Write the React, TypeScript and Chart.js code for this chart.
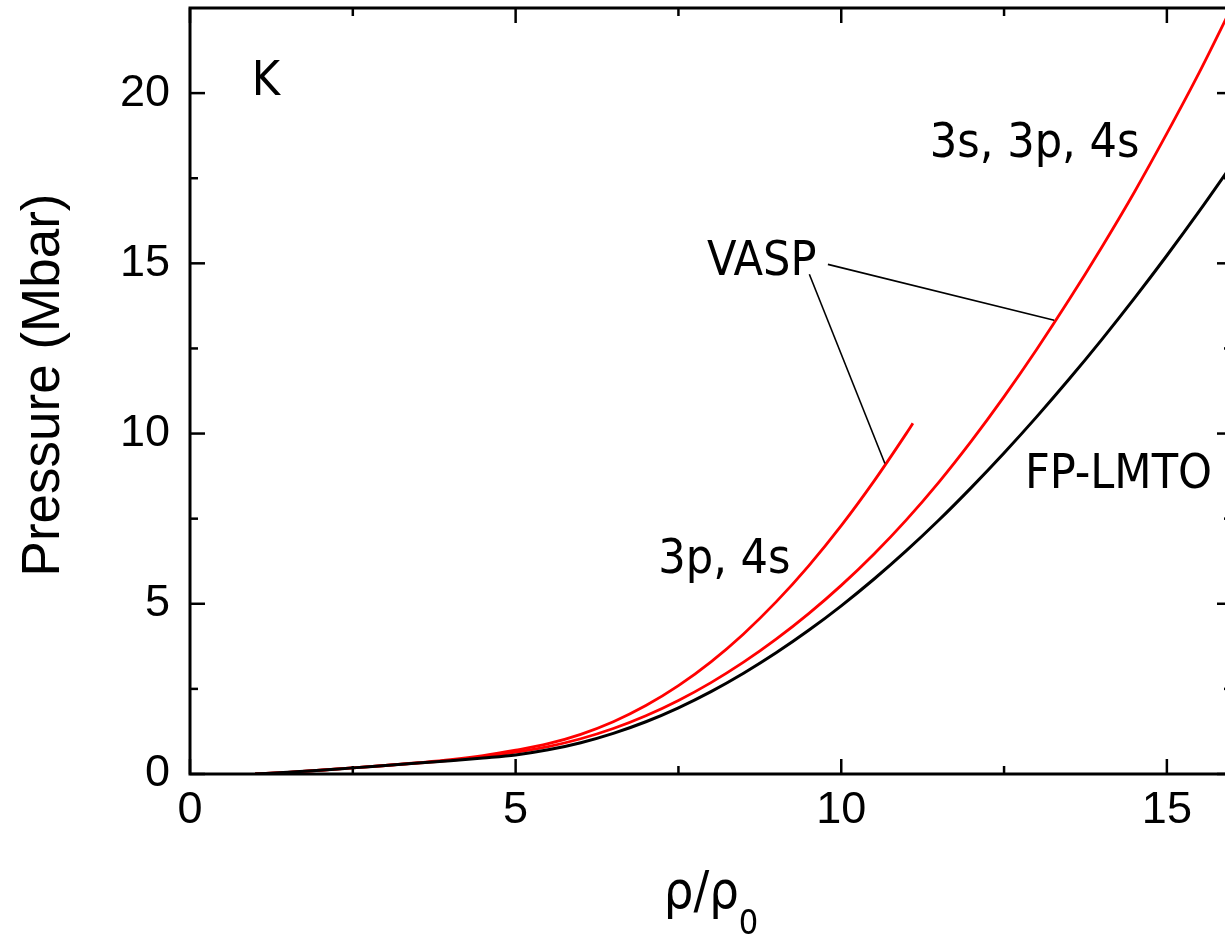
import React, { useEffect, useRef } from "react";
import { Chart, registerables } from "chart.js";

Chart.register(...registerables);

// ---- data (ρ/ρ0 vs pressure in Mbar) ----
const DENSITY = [
  1.0, 1.5, 2.0, 2.5, 3.0, 3.5, 4.0, 4.5, 5.0, 5.5, 6.0, 6.5, 7.0, 7.5, 8.0, 8.5,
  9.0, 9.5, 10.0, 10.5, 11.0, 11.5, 12.0, 12.5, 13.0, 13.5, 14.0, 14.5, 15.0, 15.5, 16.0,
];
const P_FPLMTO = [
  0.0, 0.05, 0.11, 0.18, 0.25, 0.32, 0.39, 0.47, 0.56, 0.71, 0.92, 1.195, 1.535, 1.945, 2.42, 2.96,
  3.56, 4.22, 4.94, 5.72, 6.56, 7.46, 8.42, 9.43, 10.49, 11.6, 12.76, 13.97, 15.23, 16.54, 17.9,
];
const P_VASP_3S3P4S = [
  0.0, 0.05, 0.11, 0.18, 0.25, 0.32, 0.4, 0.5, 0.64, 0.805, 1.035, 1.335, 1.71, 2.16, 2.685, 3.285,
  3.96, 4.71, 5.54, 6.455, 7.465, 8.575, 9.785, 11.085, 12.47, 13.935, 15.475, 17.09, 18.815, 20.615, 22.54,
];
const DENSITY_3P4S = [
  1.0, 1.5, 2.0, 2.5, 3.0, 3.5, 4.0, 4.5, 5.0, 5.5, 6.0, 6.5, 7.0, 7.5, 8.0, 8.5,
  9.0, 9.5, 10.0, 10.5, 11.0, 11.1,
];
const P_VASP_3P4S = [
  0.0, 0.05, 0.11, 0.18, 0.25, 0.33, 0.42, 0.54, 0.7, 0.89, 1.165, 1.535, 2.01, 2.595, 3.295, 4.115,
  5.055, 6.115, 7.295, 8.595, 10.005, 10.3,
];

const X_TICKS = [0, 5, 10, 15];
const X_MINOR = [2.5, 7.5, 12.5];
const Y_TICKS = [0, 5, 10, 15, 20];
const Y_MINOR = [2.5, 7.5, 12.5, 17.5];

const Y_TITLE = "Pressure (Mbar)";
const X_TITLE_MAIN = "ρ/ρ";
const X_TITLE_SUB = "0";

// labels anchored in data coordinates (left, baseline)
const LABEL_TEXT = ["K", "3s, 3p, 4s", "VASP", "FP-LMTO", "3p, 4s"];
const LABEL_X = [0.95, 11.36, 7.94, 12.82, 7.19];
const LABEL_Y = [19.94, 18.12, 14.65, 8.4, 5.9];

// leader lines from "VASP"
const LEADER_FROM_X = [9.795, 9.51];
const LEADER_FROM_Y = [14.97, 14.68];
const LEADER_TO_X = [13.27, 10.67];
const LEADER_TO_Y = [13.33, 9.12];

const ANNOT_FONT = '48px "DejaVu Sans Condensed", "DejaVu Sans", sans-serif';
const TICK_FONT_FAMILY = '"Liberation Sans", Arial, sans-serif';

const decorPlugin = {
  id: "decor",
  afterDatasetsDraw(chart: any) {
    const { ctx, chartArea: a } = chart;
    const xs = chart.scales.x;
    const ys = chart.scales.y;
    const line = (x1: number, y1: number, x2: number, y2: number) => {
      ctx.beginPath();
      ctx.moveTo(x1, y1);
      ctx.lineTo(x2, y2);
      ctx.stroke();
    };
    ctx.save();
    ctx.strokeStyle = "#000";
    ctx.lineCap = "butt";

    // leader lines
    ctx.lineWidth = 1.6;
    for (let i = 0; i < LEADER_FROM_X.length; i++) {
      line(
        xs.getPixelForValue(LEADER_FROM_X[i]),
        ys.getPixelForValue(LEADER_FROM_Y[i]),
        xs.getPixelForValue(LEADER_TO_X[i]),
        ys.getPixelForValue(LEADER_TO_Y[i])
      );
    }

    // frame
    ctx.lineWidth = 3;
    ctx.strokeRect(a.left, a.top, a.right - a.left, a.bottom - a.top);

    // inward ticks
    ctx.lineWidth = 2.5;
    const MAJ = 15;
    const MIN = 8;
    X_TICKS.forEach((v) => {
      const p = xs.getPixelForValue(v);
      line(p, a.bottom, p, a.bottom - MAJ);
      line(p, a.top, p, a.top + MAJ);
    });
    X_MINOR.forEach((v) => {
      const p = xs.getPixelForValue(v);
      line(p, a.bottom, p, a.bottom - MIN);
      line(p, a.top, p, a.top + MIN);
    });
    Y_TICKS.forEach((v) => {
      const p = ys.getPixelForValue(v);
      line(a.left, p, a.left + MAJ, p);
      line(a.right, p, a.right - MAJ, p);
    });
    Y_MINOR.forEach((v) => {
      const p = ys.getPixelForValue(v);
      line(a.left, p, a.left + MIN, p);
      line(a.right, p, a.right - MIN, p);
    });

    // annotations
    ctx.fillStyle = "#000";
    ctx.font = ANNOT_FONT;
    ctx.textAlign = "left";
    ctx.textBaseline = "alphabetic";
    LABEL_TEXT.forEach((t, i) => {
      ctx.fillText(t, xs.getPixelForValue(LABEL_X[i]), ys.getPixelForValue(LABEL_Y[i]));
    });

    // x title with subscript
    const mainFont = '52px "DejaVu Sans Condensed", "DejaVu Sans", sans-serif';
    const subFont = '34px "DejaVu Sans Condensed", "DejaVu Sans", sans-serif';
    ctx.font = mainFont;
    const wMain = ctx.measureText(X_TITLE_MAIN).width;
    ctx.font = subFont;
    const wSub = ctx.measureText(X_TITLE_SUB).width;
    const cx = (a.left + a.right) / 2;
    const startX = cx - (wMain + wSub) / 2;
    const base = a.bottom + 134;
    ctx.font = mainFont;
    ctx.fillText(X_TITLE_MAIN, startX, base);
    ctx.font = subFont;
    ctx.fillText(X_TITLE_SUB, startX + wMain, base + 26);

    // y title
    ctx.save();
    ctx.translate(44, 385);
    ctx.rotate(-Math.PI / 2);
    ctx.font = '53px "Liberation Sans", Arial, sans-serif';
    ctx.textAlign = "center";
    ctx.textBaseline = "middle";
    ctx.fillText(Y_TITLE, 0, 0);
    ctx.restore();

    ctx.restore();
  },
};

const zeroPad = (s: any) => {
  s.paddingTop = 0;
  s.paddingBottom = 0;
  s.paddingLeft = 0;
  s.paddingRight = 0;
};

export default function App() {
  const ref = useRef<HTMLCanvasElement | null>(null);

  useEffect(() => {
    if (!ref.current) return;
    const toPts = (xs: number[], ys: number[]) => xs.map((x, i) => ({ x, y: ys[i] }));
    const chart = new Chart(ref.current, {
      type: "line",
      data: {
        datasets: [
          {
            label: "FP-LMTO",
            data: toPts(DENSITY, P_FPLMTO),
            borderColor: "#000000",
            borderWidth: 3,
            pointRadius: 0,
            cubicInterpolationMode: "monotone",
            fill: false,
          },
          {
            label: "VASP 3s, 3p, 4s",
            data: toPts(DENSITY, P_VASP_3S3P4S),
            borderColor: "#ff0000",
            borderWidth: 2.8,
            pointRadius: 0,
            cubicInterpolationMode: "monotone",
            fill: false,
          },
          {
            label: "VASP 3p, 4s",
            data: toPts(DENSITY_3P4S, P_VASP_3P4S),
            borderColor: "#ff0000",
            borderWidth: 2.8,
            pointRadius: 0,
            cubicInterpolationMode: "monotone",
            fill: false,
          },
        ],
      },
      options: {
        responsive: false,
        animation: false,
        layout: { padding: { top: 8, right: 8, left: 0, bottom: 0 } },
        plugins: {
          legend: { display: false },
          tooltip: { enabled: false },
        },
        scales: {
          x: {
            type: "linear",
            min: 0,
            max: 16,
            afterBuildTicks: (s: any) => {
              s.ticks = X_TICKS.map((v) => ({ value: v }));
            },
            afterFit: (s: any) => {
              s.height = 165;
              zeroPad(s);
            },
            grid: { display: false, drawTicks: false },
            border: { display: false },
            ticks: {
              color: "#000",
              padding: 10,
              maxRotation: 0,
              autoSkip: false,
              font: { family: TICK_FONT_FAMILY, size: 45 },
            },
          },
          y: {
            type: "linear",
            min: 0,
            max: 22.5,
            afterBuildTicks: (s: any) => {
              s.ticks = Y_TICKS.map((v) => ({ value: v }));
            },
            afterFit: (s: any) => {
              s.width = 190;
              zeroPad(s);
            },
            grid: { display: false, drawTicks: false },
            border: { display: false },
            ticks: {
              color: "#000",
              padding: 20,
              autoSkip: false,
              font: { family: TICK_FONT_FAMILY, size: 45 },
            },
          },
        },
      },
      plugins: [decorPlugin],
    });
    return () => chart.destroy();
  }, []);

  return (
    <div
      style={{
        position: "fixed",
        left: 0,
        top: 0,
        width: 1225,
        height: 939,
        overflow: "hidden",
        background: "#fff",
      }}
    >
      <canvas ref={ref} width={1240} height={939} style={{ display: "block" }} />
    </div>
  );
}
